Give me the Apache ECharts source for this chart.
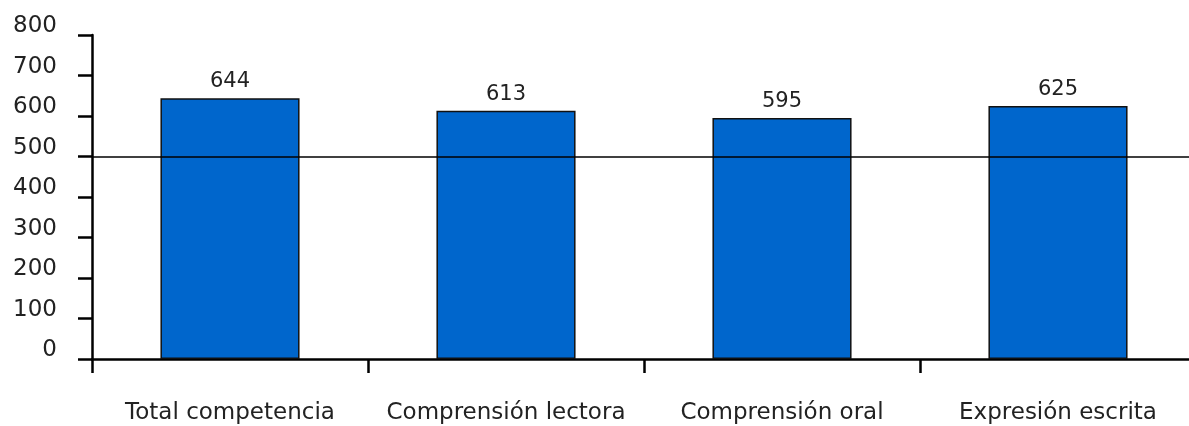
<!DOCTYPE html>
<html>
<head>
<meta charset="utf-8">
<script src="https://cdn.jsdelivr.net/npm/echarts@6/dist/echarts.min.js"></script>
<style>
html,body{margin:0;padding:0;background:#fff;overflow:hidden;}
#chart{width:1196px;height:426px;}
</style>
</head>
<body>
<div id="chart"></div>
<script>
const categories = ['Total competencia', 'Comprensión lectora', 'Comprensión oral', 'Expresión escrita'];
const scores = [644, 613, 595, 625];
const referenceLevel = 500;
const yMin = 0, yMax = 800, yStep = 100;

const chart = echarts.init(document.getElementById('chart'), null, {renderer: 'canvas'});
const FONT = 'DejaVu Sans';
chart.setOption({
  animation: false,
  backgroundColor: '#ffffff',
  grid: {left: 92, top: 35, bottom: 67, right: 0, containLabel: false},
  xAxis: {
    type: 'category',
    data: categories,
    boundaryGap: true,
    axisLine: {show: true, lineStyle: {color: '#000', width: 2.5}},
    axisTick: {show: true, inside: false, length: 14, alignWithLabel: false, lineStyle: {color: '#000', width: 2.5}},
    axisLabel: {color: '#222', fontFamily: FONT, fontSize: 23, margin: 43, verticalAlign: 'top', interval: 0}
  },
  yAxis: {
    type: 'value',
    min: yMin, max: yMax, interval: yStep,
    splitLine: {show: false},
    axisLine: {show: true, lineStyle: {color: '#000', width: 2.5}},
    axisTick: {show: true, inside: false, length: 14, lineStyle: {color: '#000', width: 2.5}},
    axisLabel: {color: '#222', fontFamily: FONT, fontSize: 23, margin: 35, verticalAlign: 'bottom', lineHeight: 17}
  },
  series: [{
    type: 'bar',
    data: scores,
    barWidth: '50.4%',
    itemStyle: {color: '#0066cc', borderColor: '#111', borderWidth: 1.5},
    label: {show: true, position: 'top', distance: 6, color: '#222', fontFamily: FONT, fontSize: 21},
    markLine: {
      silent: true,
      symbol: ['none', 'none'],
      label: {show: false},
      lineStyle: {color: '#000', width: 1.5, type: 'solid'},
      data: [{yAxis: referenceLevel}],
      z: 10
    }
  }]
});
</script>
</body>
</html>
